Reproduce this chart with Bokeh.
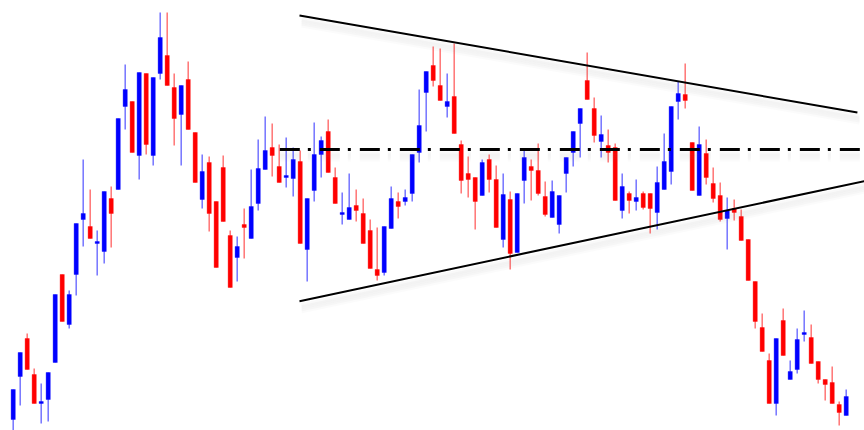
from bokeh.plotting import figure
from bokeh.models import Range1d, ColumnDataSource
from bokeh.embed import file_html
from bokeh.resources import INLINE

# OHLC values (one per session)
opens = [11, 54, 92, 56, 27, 31, 68, 156, 106, 156, 211, 204, 187, 179, 232, 241, 324, 329, 275, 357,
         275, 357, 375, 343, 316, 351, 298, 231, 268, 229, 263, 195, 173, 206, 192, 227, 261, 283, 264, 253,
         252, 269, 181, 240, 276, 299, 253, 216, 211, 225, 217, 200, 161, 158, 202, 229, 229, 237, 278, 338,
         365, 345, 324, 334, 286, 257, 253, 235, 271, 251, 191, 231, 178, 250, 264, 260, 234, 213, 206, 257,
         278, 307, 350, 322, 289, 285, 283, 220, 237, 229, 237, 237, 218, 241, 259, 329, 336, 288, 235, 277,
         247, 235, 212, 222, 214, 191, 149, 103, 70, 27, 110, 51, 61, 96, 93, 69, 51, 48, 26, 15]
highs = [41, 78, 97, 62, 47, 58, 136, 156, 140, 207, 271, 241, 200, 239, 244, 312, 366, 329, 358, 357,
         353, 418, 418, 357, 345, 369, 298, 276, 274, 229, 275, 200, 194, 222, 261, 291, 314, 307, 286, 293,
         283, 280, 232, 308, 294, 311, 263, 238, 257, 241, 232, 211, 203, 204, 244, 238, 241, 276, 341, 359,
         384, 382, 357, 387, 290, 274, 253, 271, 276, 265, 257, 239, 237, 280, 271, 287, 249, 250, 235, 273,
         299, 322, 378, 333, 315, 301, 287, 257, 239, 251, 239, 237, 264, 297, 324, 349, 367, 288, 304, 291,
         263, 248, 233, 231, 221, 191, 149, 117, 77, 92, 122, 70, 102, 120, 106, 69, 51, 64, 29, 41]
lows = [-4, 25, 61, 27, 7, 9, 68, 109, 102, 135, 184, 192, 155, 167, 183, 241, 301, 278, 251, 276,
        265, 351, 345, 285, 265, 301, 248, 222, 199, 163, 209, 143, 149, 172, 192, 220, 261, 254, 248, 243,
        234, 187, 149, 229, 253, 258, 227, 206, 211, 209, 187, 162, 150, 155, 202, 212, 225, 229, 268, 299,
        344, 330, 313, 297, 237, 233, 201, 235, 238, 203, 183, 161, 178, 227, 230, 235, 214, 213, 197, 238,
        264, 273, 331, 288, 273, 268, 230, 212, 217, 220, 221, 197, 201, 241, 246, 311, 322, 240, 235, 246,
        228, 209, 181, 210, 190, 150, 102, 79, 27, 15, 75, 51, 57, 89, 67, 47, 30, 27, 5, 15]
closes = [41, 78, 61, 27, 29, 58, 136, 109, 136, 207, 217, 192, 189, 239, 217, 312, 341, 278, 358, 286,
          353, 393, 345, 312, 345, 301, 248, 259, 217, 163, 209, 143, 184, 203, 224, 262, 280, 275, 248, 255,
          271, 187, 232, 276, 290, 258, 227, 218, 223, 220, 187, 162, 155, 204, 232, 224, 233, 276, 305, 359,
          350, 330, 329, 297, 250, 251, 229, 268, 251, 203, 236, 177, 237, 273, 260, 237, 216, 239, 235, 273,
          299, 322, 331, 295, 296, 278, 230, 244, 230, 233, 223, 222, 248, 269, 324, 337, 330, 240, 286, 253,
          232, 211, 220, 218, 190, 150, 109, 79, 27, 92, 75, 59, 91, 98, 67, 51, 46, 27, 18, 34]

# Pattern lines drawn on the chart (session index, price)
upper_x = [40.9, 120.6]
upper_y = [415, 318]
lower_x = [40.9, 121.8]
lower_y = [129.3, 249.7]
mid_x = [38.09, 122.5]
mid_y = [281, 281]

UP = "#0000ff"
DOWN = "#ff0000"

idx = list(range(len(opens)))
colors = [UP if c >= o else DOWN for o, c in zip(opens, closes)]
tops, bots = [], []
for o, c in zip(opens, closes):
    t, b = max(o, c), min(o, c)
    if t - b < 2:
        m = (t + b) / 2
        t, b = m + 1, m - 1
    tops.append(t)
    bots.append(b)

src = ColumnDataSource(dict(x=idx, o=opens, h=highs, l=lows, c=closes,
                            top=tops, bot=bots, color=colors))

p = figure(width=864, height=430, output_backend="svg", toolbar_location=None,
           x_range=Range1d(-1.814, 121.614), y_range=Range1d(0, 430),
           min_border=0, min_border_left=0, min_border_right=0,
           min_border_top=0, min_border_bottom=0)
p.xaxis.visible = False
p.yaxis.visible = False
p.grid.visible = False
p.outline_line_color = None
p.background_fill_color = "white"
p.border_fill_color = "white"

p.segment(x0="x", y0="h", x1="x", y1="l", source=src, line_color="color",
          line_width=1.5, line_alpha=0.55)
p.vbar(x="x", width=0.6, top="top", bottom="bot", source=src,
       fill_color="color", line_color="color", line_alpha=0.6, line_width=0.6)

# soft shadows under the pattern lines
for dy, a in [(-4, 0.05), (-6, 0.05), (-8, 0.04), (-10, 0.03)]:
    p.line([v + 0.3 for v in upper_x], [v + dy for v in upper_y], line_color="gray",
           line_width=4, line_alpha=a)
    p.line([v + 0.3 for v in lower_x], [v + dy for v in lower_y], line_color="gray",
           line_width=4, line_alpha=a)
    p.line(mid_x, [v + dy for v in mid_y], line_color="gray", line_width=4,
           line_alpha=a, line_dash="20 8 3 9")

p.line(upper_x, upper_y, line_color="black", line_width=2)
p.line(lower_x, lower_y, line_color="black", line_width=2)
p.line(mid_x, mid_y, line_color="black", line_width=3, line_dash="20 8 3 9")

open("out.html", "w").write(file_html(p, INLINE))
